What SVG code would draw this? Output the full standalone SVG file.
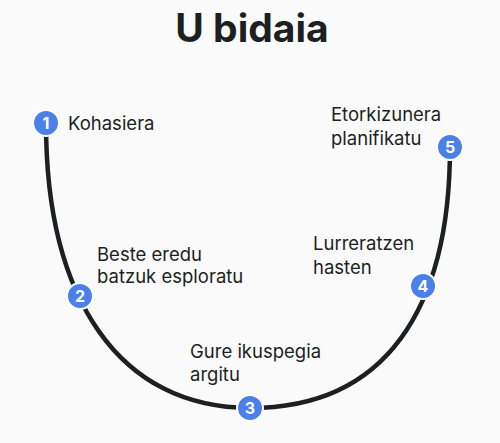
<svg xmlns="http://www.w3.org/2000/svg" width="500" height="443" viewBox="0 0 500 443">
<style>
.bg{fill:#fafafa}
.title{font-family:Inter,"Liberation Sans",sans-serif;font-weight:700;font-size:39px;fill:#1d1f21}
.lbl{font-family:Inter,"Liberation Sans",sans-serif;font-size:18.5px;fill:#1d1f21}
.dot{fill:#4a80e8;stroke:#ffffff;stroke-width:2}
.num{font-family:Inter,"Liberation Sans",sans-serif;font-weight:700;font-size:16px;fill:#ffffff;text-anchor:middle}
.curve{fill:none;stroke:#1d1f21;stroke-width:4.5;stroke-linecap:round}
</style>
<rect class="bg" width="500" height="443"/>
<text class="title" x="252" y="42" text-anchor="middle">U bidaia</text>
<g id="connectors">
<path class="curve" d="M46,123 C46,300 120,408 250,408 C385,408 450,310 450,147"/>
</g>
<g id="n1"><circle class="dot" cx="46" cy="123" r="13"/><text class="num" x="46" y="129">1</text><text class="lbl" x="68" y="130">Kohasiera</text></g>
<g id="n2"><circle class="dot" cx="80" cy="296" r="13"/><text class="num" x="80" y="302">2</text><text class="lbl" x="97" y="261">Beste eredu</text><text class="lbl" x="97" y="283">batzuk esploratu</text></g>
<g id="n3"><circle class="dot" cx="250" cy="408" r="13"/><text class="num" x="250" y="414">3</text><text class="lbl" x="190" y="358">Gure ikuspegia</text><text class="lbl" x="190" y="381">argitu</text></g>
<g id="n4"><circle class="dot" cx="423" cy="286" r="13"/><text class="num" x="423" y="292">4</text><text class="lbl" x="313" y="250">Lurreratzen</text><text class="lbl" x="313" y="274">hasten</text></g>
<g id="n5"><circle class="dot" cx="450" cy="147" r="13"/><text class="num" x="450" y="153">5</text><text class="lbl" x="331" y="121">Etorkizunera</text><text class="lbl" x="331" y="145">planifikatu</text></g>
</svg>
